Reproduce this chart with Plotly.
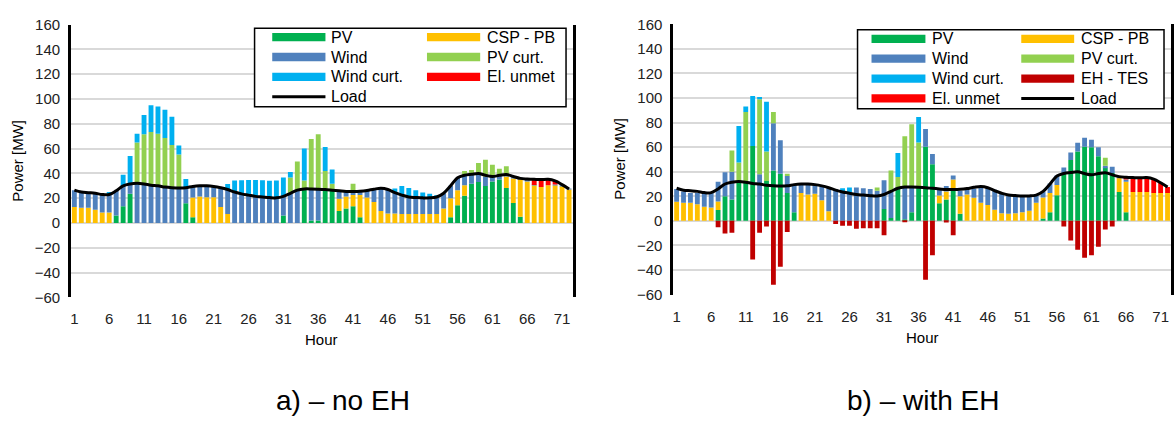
import plotly.graph_objects as go

W, H = 1174, 425
FONT = "Liberation Sans, Arial, sans-serif"

hours = list(range(1, 73))
tick_hours = list(range(1, 73, 5))

# Electrical load [MW], same for both cases
load = [26.5, 25, 24.5, 24, 23, 23, 26, 30, 31.5, 32,
        31.5, 30.5, 30, 29, 28.5, 28.3, 28.5, 29.5, 30, 30,
        29.5, 28.5, 27, 25, 23.5, 22.5, 21.5, 21, 20.5, 20.3,
        21.5, 24, 26.5, 27.5, 27.5, 27.3, 27, 26.5, 26, 25.5,
        25.5, 25.7, 26.3, 27.3, 28, 27, 24.5, 22.5, 21, 20.6,
        20.3, 20.3, 21, 24, 30, 36.5, 38.5, 39.3, 40, 38.5,
        37.5, 38.5, 39.2, 37.5, 36, 35.5, 35.2, 35, 35.3, 34,
        31, 27.5]

# ---- case a) no EH ----
pv_a = [0, 0, 0, 0, 0, 0, 6, 13.6, 23.7, 0,
        0, 0, 0, 0, 0, 0, 16, 4.6, 0, 0,
        0, 0, 0, 0, 0, 0, 0, 0, 0, 0,
        6, 0, 0, 27.3, 2, 2, 27, 27, 9.8, 11.8,
        13.6, 4.6, 0, 0, 0, 0, 0, 0, 0, 0,
        0, 0, 0, 0, 4.6, 14.4, 22.1, 31.7, 33, 29.9,
        33.5, 35, 28.3, 16.2, 5.1, 0, 0, 0, 0, 0,
        0, 0]
csp_a = [13, 12.4, 12.4, 10.8, 8.5, 8.5, 0, 0, 0, 0,
         0, 0, 0, 0, 0, 0, 0, 16, 21.4, 20.8,
         20.8, 13, 7.2, 0, 0, 0, 0, 0, 0, 0,
         0, 0, 0, 0, 0, 0, 0, 0, 9.8, 9.6,
         9, 18, 20.6, 17, 9.8, 7.7, 7.7, 7.2, 7.2, 7.2,
         7.2, 7.2, 7.2, 11.8, 15.4, 12, 8.3, 0, 0, 0,
         0, 0, 9.3, 19.8, 30.4, 33.5, 30.4, 29.1, 30.4, 30.4,
         29.6, 27]
wind_a = [13.5, 12.6, 12.1, 13.2, 14.5, 14.5, 20, 16.4, 7.8, 32,
          31.5, 30.5, 30, 29, 28.5, 28.3, 12.5, 8.9, 8.6, 9.2,
          8.7, 15.5, 19.8, 25, 23.5, 22.5, 21.5, 21, 20.5, 20.3,
          15.5, 24, 26.5, 0.2, 25.5, 25.3, 0, 0, 6.4, 4.1,
          2.9, 3.1, 5.7, 10.3, 18.2, 19.3, 16.8, 15.3, 13.8, 13.4,
          13.1, 13.1, 13.8, 12.2, 10, 10.1, 8.1, 7.6, 7, 7.6,
          4.1, 3.8, 1.7, 2, 1, 2, 0.2, 0, 0, 0.6,
          1.4, 0.5]
pvcurt_a = [0, 0, 0, 0, 0, 0, 0, 0, 0, 33,
            40, 42.9, 42, 39.5, 34.5, 27, 0, 0, 0, 0,
            0, 0, 0, 0, 0, 0, 0, 0, 0, 0,
            0, 12.8, 23.2, 6.7, 40.2, 44.3, 15, 4.7, 0, 0,
            6.2, 0, 0, 0, 0, 0, 0, 0, 0, 0,
            0, 0, 0, 0, 0, 0, 3.5, 3.4, 8.4, 13.5,
            9.4, 5, 6.5, 0, 0, 0, 0, 0, 0, 0,
            0, 0]
windcurt_a = [0, 0, 0, 0, 0, 2, 0, 9, 22.5, 7,
              15.5, 21.6, 22, 22.9, 22.7, 7.2, 7, 0, 0, 0,
              0, 0, 4.4, 9.2, 11, 12.2, 13.2, 13.5, 13.5, 13.9,
              15.3, 4.4, 0, 25.8, 0, 0, 19.3, 11.5, 0, 0,
              0, 0, 0, 0, 0, 0, 3.3, 7.4, 7.3, 5.9,
              4.4, 3.4, 1.5, 0, 0, 0, 0, 0, 0, 0,
              0, 0, 0, 0, 0, 0, 0, 0, 0, 0,
              0, 0]
unmet_a = [0] * 66 + [4.6, 6, 5, 3, 0, 0]

# ---- case b) with EH ----
pv_b = [0, 0, 0, 0, 0, 0, 8.9, 20, 17.4, 31.8,
        31.8, 60.9, 0, 32.5, 40.9, 38.3, 22.7, 7, 0, 0,
        0, 0, 0, 0, 0, 0, 0, 0, 0, 0,
        9.6, 2.3, 27.1, 1.3, 7, 27.9, 60.4, 46, 14.3, 17.4,
        25.3, 5.7, 0, 0, 0, 0, 0, 0, 0, 0,
        0, 0, 0, 2, 7, 20.8, 38.3, 49.5, 56.5, 60.4,
        59.9, 52.6, 43.5, 39, 23.4, 7, 0, 0, 0, 0,
        0, 0]
csp_b = [15.6, 14.8, 14.8, 13.5, 11.5, 10.9, 6.8, 0, 0, 0,
         0, 0, 0, 0, 0, 0, 0, 0, 22.7, 21.4,
         22.1, 16.7, 7.8, 0, 0, 0, 0, 0, 0, 0,
         0, 0, 0, 0, 0, 0, 0, 0, 6.3, 6.6,
         8.3, 14.3, 21.4, 18.8, 14.8, 13, 9, 6.3, 5.7, 6.3,
         7, 8.3, 14.8, 17, 15.7, 8.4, 0, 0, 0, 0,
         0, 0, 0, 0, 11.5, 24.8, 23.4, 23.4, 23.4, 22.7,
         22.7, 22.7]
wind_b = [10.4, 9.2, 7.9, 9.2, 11.2, 11.8, 16.1, 19.6, 22.6, 0,
          0, 0, 38, 0, 38.5, 27.3, 13.8, 22.2, 6.5, 8.3,
          7, 11.2, 18.8, 26, 24, 23.4, 27.1, 26.6, 26, 24.5,
          23.4, 21.7, 0, 26.6, 20.9, 0, 14.3, 8.4, 4.7, 4.4,
          3.4, 4.5, 3.9, 7.5, 13.1, 14, 16.3, 16.4, 15.1, 13.7,
          13, 12.5, 7.1, 5, 7.8, 7.8, 5.2, 6.2, 7, 7.3,
          6.2, 7.3, 1.3, 5, 1.5, 1.9, 0, 0, 0, 0,
          0, 0]
pvcurt_b = [0, 0, 0, 0, 0, 0, 0, 0, 17.3, 15.6,
            56.7, 0, 61, 24, 9.1, 0, 1.8, 0, 0, 0,
            0, 0, 0, 0, 0, 0, 0, 0, 0, 2.6,
            0, 17, 8.6, 41, 50.7, 35.9, 0, 0, 0, 0,
            0, 0, 0, 0, 0, 0, 0, 0, 0, 0,
            0, 0, 0, 0, 0, 0, 0, 0, 0, 0,
            0, 0, 6.5, 0, 0, 0, 0, 0, 0, 0,
            0, 0]
windcurt_b = [0, 0, 0, 0, 0, 0, 0, 0, 0, 29.9,
              4.5, 40.7, 1.8, 40.4, 0, 0, 0, 0, 0, 0,
              0, 0, 0, 0, 2.6, 3.7, 0, 0, 0, 0,
              0, 0, 19.5, 0, 0, 20.8, 0, 0, 0, 0,
              0, 0, 0, 0, 0, 0, 0, 0, 0, 0,
              0, 0, 0, 0, 0, 0, 0, 0, 0, 0,
              0, 0, 0, 0, 0, 0, 0, 0, 0, 0,
              0, 0]
eh_tes_b = [0, 0, 0, 0, 0, 0, -5.1, -10.3, -9.7, 0,
            0, -31.5, -9.7, -4.6, -52, -37.4, -9, 0, 0, 0,
            0, 0, 0, -2.6, -4, -4, -6.4, -6, -6, -6,
            -11.8, 0, 0, -0.5, 0, 0, -48, -28, 0, -1.3,
            -11.8, 0, 0, 0, 0, 0, 0, 0, 0, 0,
            0, 0, 0, 0, 0, 0, -4.6, -16, -23.6, -30,
            -28, -21, -7, -4.6, 0, 0, 0, 0, 0, 0,
            0, 0]
unmet_b = [0] * 65 + [2, 11.5, 11, 11, 11.3, 8.3, 4.8]

C = {
    "PV": "#00B050",
    "CSP - PB": "#FFC000",
    "Wind": "#4F81BD",
    "PV curt.": "#92D050",
    "Wind curt.": "#00B0F0",
    "El. unmet": "#FF0000",
    "EH - TES": "#C00000",
    "Load": "#000000",
}

fig = go.Figure()


def add_bars(name, values, xa, ya):
    fig.add_trace(go.Bar(x=hours, y=values, name=name, marker_color=C[name],
                         marker_line_width=0, showlegend=False,
                         xaxis=xa, yaxis=ya))


for name, vals in [("PV", pv_a), ("CSP - PB", csp_a), ("Wind", wind_a),
                   ("PV curt.", pvcurt_a), ("Wind curt.", windcurt_a),
                   ("El. unmet", unmet_a)]:
    add_bars(name, vals, "x", "y")
fig.add_trace(go.Scatter(x=hours, y=load, mode="lines", showlegend=False,
                         line=dict(color="black", width=3, shape="spline", smoothing=1),
                         xaxis="x", yaxis="y"))

for name, vals in [("PV", pv_b), ("CSP - PB", csp_b), ("Wind", wind_b),
                   ("PV curt.", pvcurt_b), ("Wind curt.", windcurt_b),
                   ("EH - TES", eh_tes_b), ("El. unmet", unmet_b)]:
    add_bars(name, vals, "x2", "y2")
fig.add_trace(go.Scatter(x=hours, y=load, mode="lines", showlegend=False,
                         line=dict(color="black", width=3, shape="spline", smoothing=1),
                         xaxis="x2", yaxis="y2"))

# plot areas in pixels: (left, right, top, bottom)
AREA_A = (70, 572.5, 16.2, 300.5)
AREA_B = (673.3, 1172, 15.9, 297.5)

TICKFONT = dict(family=FONT, size=15, color="#222222")


def xaxis_cfg(area, anchor):
    return dict(domain=[area[0] / W, area[1] / W], range=[0.5, 72.5],
                tickmode="array", tickvals=tick_hours, ticktext=[str(t) for t in tick_hours],
                showgrid=False, showline=False, zeroline=False, ticks="",
                ticklabelstandoff=11, tickfont=TICKFONT, anchor=anchor, fixedrange=True)


def yaxis_cfg(area, anchor):
    return dict(domain=[1 - area[3] / H, 1 - area[2] / H], range=[-60, 160],
                tick0=0, dtick=20, showgrid=True, gridcolor="#D9D9D9", gridwidth=1.5,
                zeroline=True, zerolinecolor="#D9D9D9", zerolinewidth=1.5,
                showline=True, linecolor="black", linewidth=2.5, mirror=True,
                ticks="", ticklabelstandoff=5, tickfont=TICKFONT, anchor=anchor,
                fixedrange=True)


shapes = []
annotations = []


def px(x):
    return x / W


def py(y):
    return 1 - y / H


def text(x, y, s, size, xanchor="center", angle=0):
    annotations.append(dict(x=px(x), y=py(y), xref="paper", yref="paper", text=s,
                            showarrow=False, xanchor=xanchor, yanchor="middle",
                            textangle=angle,
                            font=dict(family=FONT, size=size, color="black")))


def legend(box, rows, cols, entries):
    x0, x1, y0, y1 = box
    shapes.append(dict(type="rect", xref="paper", yref="paper", x0=px(x0), x1=px(x1),
                       y0=py(y1), y1=py(y0), fillcolor="white",
                       line=dict(color="black", width=1.5), layer="above"))
    for (r, c, name) in entries:
        sx0, sx1, tx = cols[c]
        yy = rows[r]
        if name == "Load":
            shapes.append(dict(type="line", xref="paper", yref="paper", x0=px(sx0), x1=px(sx1),
                               y0=py(yy), y1=py(yy), line=dict(color="black", width=3),
                               layer="above"))
        else:
            shapes.append(dict(type="rect", xref="paper", yref="paper", x0=px(sx0), x1=px(sx1),
                               y0=py(yy + 4.3), y1=py(yy - 4.3), fillcolor=C[name],
                               line=dict(width=0), layer="above"))
        text(tx, yy, name, 16, xanchor="left")


legend((254, 566, 20, 101.7), [29.3, 50, 70.7, 91.3],
       [(271.7, 325, 329), (426.7, 480, 485)],
       [(0, 0, "PV"), (1, 0, "Wind"), (2, 0, "Wind curt."), (3, 0, "Load"),
        (0, 1, "CSP - PB"), (1, 1, "PV curt."), (2, 1, "El. unmet")])

legend((858, 1165, 21.5, 104), [31, 51.7, 72.4, 93.1],
       [(872, 926, 931), (1022, 1075, 1080)],
       [(0, 0, "PV"), (1, 0, "Wind"), (2, 0, "Wind curt."), (3, 0, "El. unmet"),
        (0, 1, "CSP - PB"), (1, 1, "PV curt."), (2, 1, "EH - TES"), (3, 1, "Load")])

text(17, 158, "Power [MW]", 15, angle=-90)
text(620, 156, "Power [MW]", 15, angle=-90)
text(321, 344, "Hour", 15)
text(922.6, 342, "Hour", 15)
text(342.5, 408, "a) – no EH", 28)
text(924, 408, "b) – with EH", 28)

fig.update_layout(
    width=W, height=H, margin=dict(l=0, r=0, t=0, b=0),
    paper_bgcolor="white", plot_bgcolor="white",
    barmode="relative", bargap=0.3,
    showlegend=False,
    font=dict(family=FONT, color="black"),
    xaxis=xaxis_cfg(AREA_A, "y"), yaxis=yaxis_cfg(AREA_A, "x"),
    xaxis2=xaxis_cfg(AREA_B, "y2"), yaxis2=yaxis_cfg(AREA_B, "x2"),
    shapes=shapes, annotations=annotations,
)

fig.write_html("out.html")
